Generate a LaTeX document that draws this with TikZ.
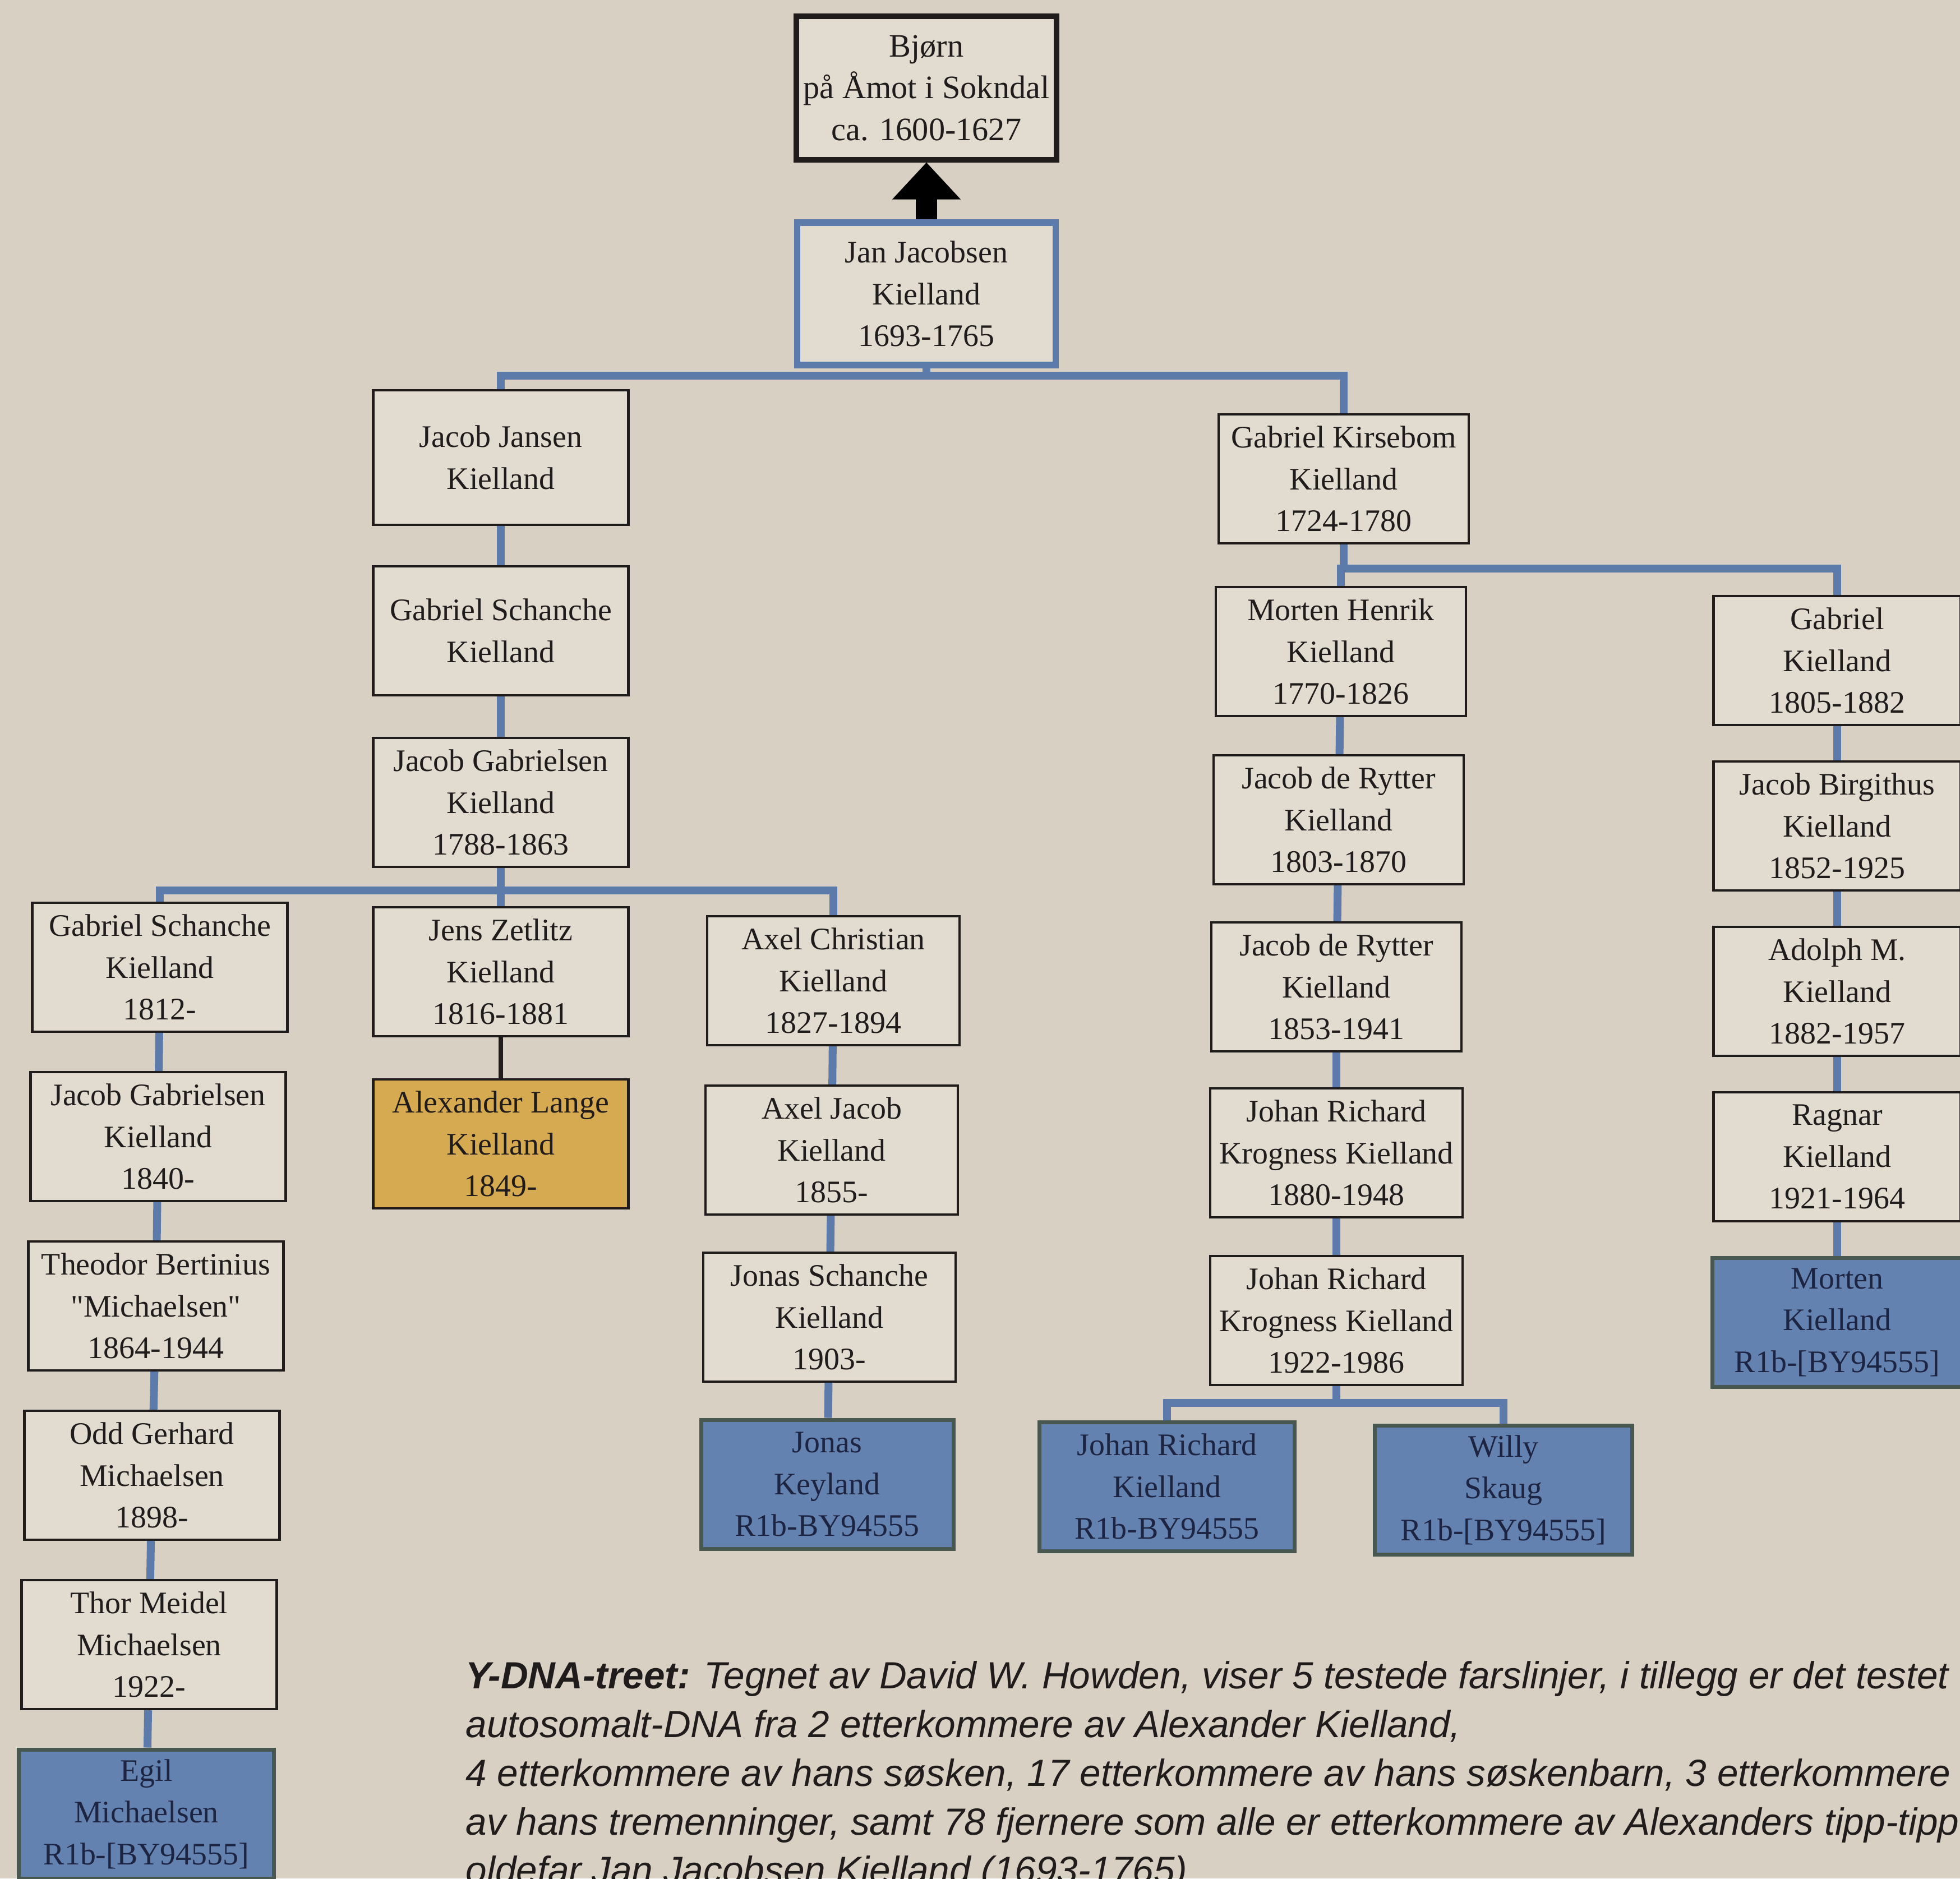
\documentclass[tikz,border=0pt]{standalone}
\usepackage{fontspec}
\setmainfont{Liberation Serif}[Ligatures=TeXOff]
\newfontfamily\capfont{Liberation Sans}
\usepackage{tikz}
\usetikzlibrary{calc,positioning,arrows.meta}
\definecolor{paper}{RGB}{216,208,195}
\definecolor{boxbg}{RGB}{226,219,208}
\definecolor{linkblue}{RGB}{92,122,170}
\definecolor{testblue}{RGB}{100,130,176}
\definecolor{testedge}{RGB}{72,88,80}
\definecolor{navy}{RGB}{28,36,66}
\definecolor{gold}{RGB}{214,170,80}
\definecolor{ink}{RGB}{32,28,28}
\newcommand{\boxfont}{\fontsize{15.9}{21.2}\selectfont}
\newcommand{\rootfont}{\fontsize{16.6}{21.2}\selectfont}
\newcommand{\capsize}{\fontsize{19.2}{24.7}\selectfont}
\tikzstyle{person} = [rectangle, minimum width=4.55cm, minimum height=2.3cm, inner sep=0pt, text centered, align=center, draw=ink, line width=1.2pt, fill=boxbg, text=ink, font=\boxfont]
\tikzstyle{tested} = [person, fill=testblue, draw=testedge, line width=2pt, text=navy]
\tikzstyle{famous} = [person, fill=gold]
\tikzstyle{root} = [person, line width=2.6pt, minimum width=4.64cm, minimum height=2.56cm, font=\rootfont]
\tikzstyle{founder} = [person, draw=linkblue, line width=3.2pt, minimum width=4.61cm, minimum height=2.54cm]
\tikzstyle{link} = [draw=linkblue, line width=4pt]
\tikzstyle{famlink} = [draw=ink, line width=2pt]
\tikzstyle{bigarrow} = [draw=black, line width=0.38cm, -{Triangle[width=1.18cm,length=0.66cm]}]
\tikzstyle{caption} = [align=left, inner sep=0pt, text=ink, font=\capfont\itshape\capsize]

\begin{document}
\begin{tikzpicture}[node distance=3.02cm]
\useasboundingbox (0,0) rectangle (34.95,-33.5);
\fill[paper] (0,0) rectangle (34.95,-33.5);
\clip (0,0) rectangle (34.95,-33.5);

% top
\node (bjorn) [root] at (16.52,-1.57) {Bjørn\\på Åmot i Sokndal\\ca. 1600-1627};
\node (jan) [founder, below of=bjorn, yshift=-0.65cm] {Jan Jacobsen\\Kielland\\1693-1765};

% left branch
\node (jacobJ) [person, below of=jan, xshift=-7.59cm, yshift=0.1cm, minimum height=2.4cm] {Jacob Jansen\\Kielland};
\node (gabS) [person, below of=jacobJ, yshift=-0.07cm] {Gabriel Schanche\\Kielland};
\node (jacobG) [person, below of=gabS, yshift=-0.04cm] {Jacob Gabrielsen\\Kielland\\1788-1863};
\node (gabS2) [person, below of=jacobG, xshift=-6.08cm, yshift=0.08cm] {Gabriel Schanche\\Kielland\\1812-};
\node (jens) [person, below of=jacobG] {Jens Zetlitz\\Kielland\\1816-1881};
\node (axelC) [person, below of=jacobG, xshift=5.93cm, yshift=-0.16cm, minimum width=4.5cm] {Axel Christian\\Kielland\\1827-1894};
\node (jacobG2) [person, below of=gabS2, xshift=-0.03cm] {Jacob Gabrielsen\\Kielland\\1840-};
\node (theodor) [person, below of=jacobG2, xshift=-0.04cm] {Theodor Bertinius\\"Michaelsen"\\1864-1944};
\node (odd) [person, below of=theodor, xshift=-0.07cm] {Odd Gerhard\\Michaelsen\\1898-};
\node (thor) [person, below of=odd, xshift=-0.05cm] {Thor Meidel\\Michaelsen\\1922-};
\node (egil) [tested, below of=thor, xshift=-0.05cm] {Egil\\Michaelsen\\R1b-[BY94555]};
\node (alex) [famous, below of=jens, yshift=-0.05cm] {Alexander Lange\\Kielland\\1849-};
\node (axelJ) [person, below of=axelC, xshift=-0.03cm, minimum width=4.5cm] {Axel Jacob\\Kielland\\1855-};
\node (jonasS) [person, below of=axelJ, xshift=-0.04cm, yshift=0.04cm, minimum width=4.5cm] {Jonas Schanche\\Kielland\\1903-};
\node (jonasK) [tested, below of=jonasS, xshift=-0.04cm, yshift=0.04cm, minimum width=4.5cm] {Jonas\\Keyland\\R1b-BY94555};

% right branch
\node (kirsebom) [person, below of=jan, xshift=7.44cm, yshift=-0.28cm, minimum width=4.46cm] {Gabriel Kirsebom\\Kielland\\1724-1780};
\node (mortenH) [person, below of=kirsebom, xshift=-0.05cm, yshift=-0.06cm, minimum width=4.46cm] {Morten Henrik\\Kielland\\1770-1826};
\node (jacobR) [person, below of=mortenH, xshift=-0.04cm, yshift=0.02cm, minimum width=4.46cm] {Jacob de Rytter\\Kielland\\1803-1870};
\node (jacobR2) [person, below of=jacobR, xshift=-0.04cm, yshift=0.04cm, minimum width=4.46cm] {Jacob de Rytter\\Kielland\\1853-1941};
\node (johanR) [person, below of=jacobR2, yshift=0.06cm, minimum width=4.5cm] {Johan Richard\\Krogness Kielland\\1880-1948};
\node (johanR2) [person, below of=johanR, yshift=0.03cm, minimum width=4.5cm] {Johan Richard\\Krogness Kielland\\1922-1986};
\node (johanK) [tested, below of=johanR2, xshift=-3.02cm, yshift=0.06cm] {Johan Richard\\Kielland\\R1b-BY94555};
\node (willy) [tested, below of=johanR2, xshift=2.98cm, minimum width=4.59cm] {Willy\\Skaug\\R1b-[BY94555]};
\node (gabK) [person, right of=mortenH, xshift=5.83cm, yshift=-0.16cm, minimum width=4.41cm] {Gabriel\\Kielland\\1805-1882};
\node (jacobB) [person, below of=gabK, yshift=0.07cm, minimum width=4.41cm] {Jacob Birgithus\\Kielland\\1852-1925};
\node (adolph) [person, below of=jacobB, yshift=0.07cm, minimum width=4.41cm] {Adolph M.\\Kielland\\1882-1957};
\node (ragnar) [person, below of=adolph, yshift=0.07cm, minimum width=4.41cm] {Ragnar\\Kielland\\1921-1964};
\node (morten) [tested, below of=ragnar, yshift=0.07cm, minimum width=4.46cm] {Morten\\Kielland\\R1b-[BY94555]};

% caption
\node (cap) [caption, anchor=north west] at (8.3,-29.62) {\textbf{Y-DNA-treet:} Tegnet av David W. Howden, viser 5 testede farslinjer, i tillegg er det testet\\autosomalt-DNA fra 2 etterkommere av Alexander Kielland,\\4 etterkommere av hans søsken, 17 etterkommere av hans søskenbarn, 3 etterkommere\\av hans tremenninger, samt 78 fjernere som alle er etterkommere av Alexanders tipp-tipp-\\oldefar Jan Jacobsen Kielland (1693-1765)};

% connectors
\coordinate (janbus) at ($(jan.south)+(0,-0.13)$);
\coordinate (gbus) at ($(jacobG.south)+(0,-0.4)$);
\coordinate (kbus) at ($(kirsebom.south)+(0,-0.43)$);
\coordinate (jbus) at ($(johanR2.south)+(0,-0.3)$);
\draw [bigarrow] (jan.north) -- (bjorn.south);
\draw [link] (jan.south) -- (janbus) -| (jacobJ.north);
\draw [link] (janbus) -| (kirsebom.north);
\draw [link] (jacobJ) -- (gabS);
\draw [link] (gabS) -- (jacobG);
\draw [link] (jacobG.south) -- (gbus) -| (gabS2.north);
\draw [link] (gbus) -| (axelC.north);
\draw [link] (gbus) -- (jens.north);
\draw [famlink] (jens) -- (alex);
\draw [link] (gabS2) -- (jacobG2);
\draw [link] (jacobG2) -- (theodor);
\draw [link] (theodor) -- (odd);
\draw [link] (odd) -- (thor);
\draw [link] (thor) -- (egil);
\draw [link] (axelC) -- (axelJ);
\draw [link] (axelJ) -- (jonasS);
\draw [link] (jonasS) -- (jonasK);
\draw [link] (kirsebom.south) -- (kbus) -| (mortenH.north);
\draw [link] (kbus) -| (gabK.north);
\draw [link] (mortenH) -- (jacobR);
\draw [link] (jacobR) -- (jacobR2);
\draw [link] (jacobR2) -- (johanR);
\draw [link] (johanR) -- (johanR2);
\draw [link] (johanR2.south) -- (jbus) -| (johanK.north);
\draw [link] (jbus) -| (willy.north);
\draw [link] (gabK) -- (jacobB);
\draw [link] (jacobB) -- (adolph);
\draw [link] (adolph) -- (ragnar);
\draw [link] (ragnar) -- (morten);

\end{tikzpicture}
\end{document}
